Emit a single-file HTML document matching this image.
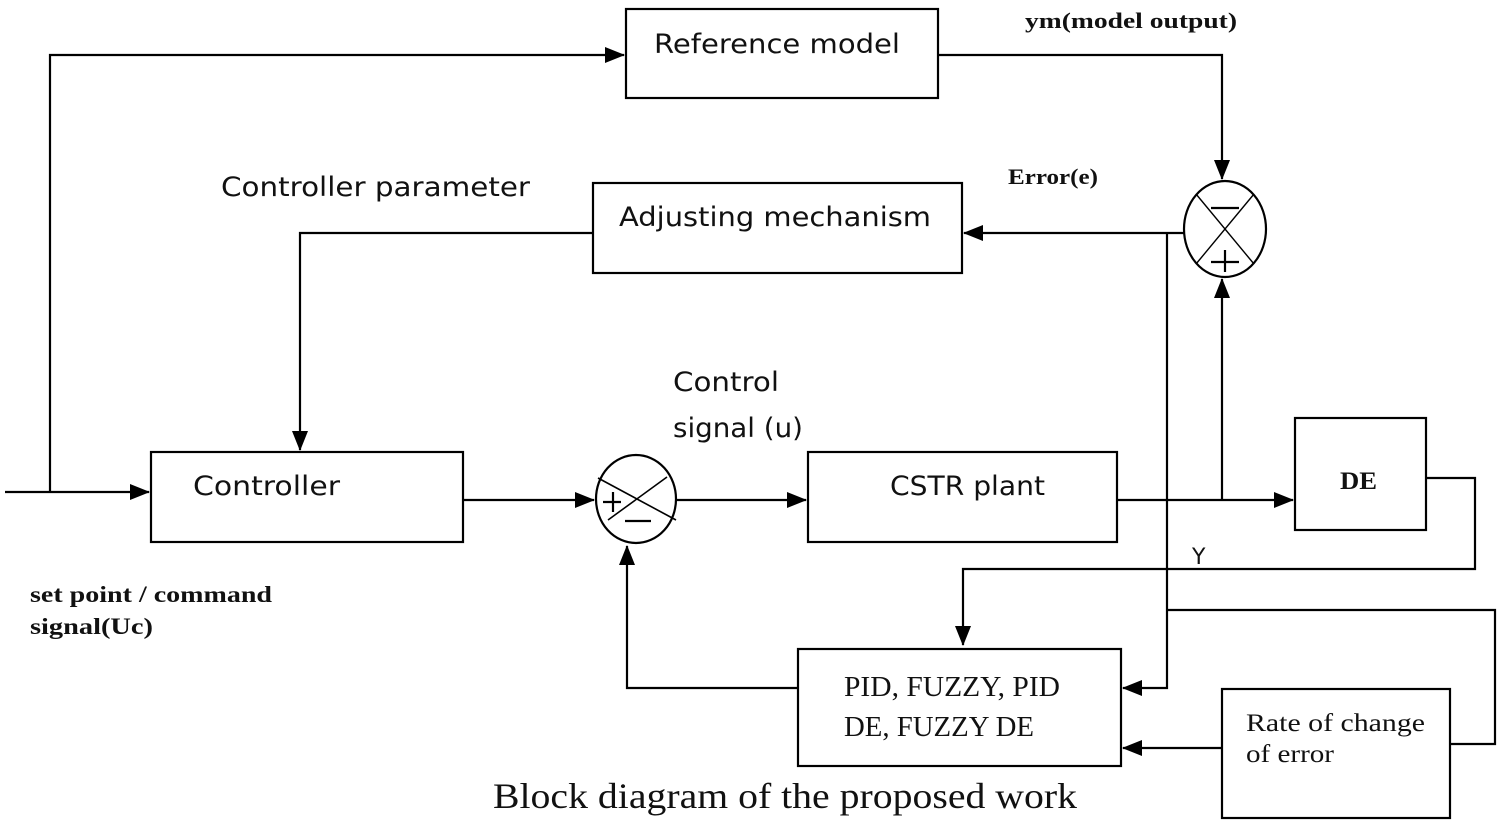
<!DOCTYPE html>
<html><head><meta charset="utf-8"><style>
html,body{margin:0;padding:0;background:#fff;}
svg{display:block}
.s{font-family:"DejaVu Sans","Liberation Sans",sans-serif;fill:#111}
.r{font-family:"Liberation Serif",serif;fill:#111}
</style></head><body>
<svg width="1504" height="827" viewBox="0 0 1504 827" xmlns="http://www.w3.org/2000/svg">
<defs>
<marker id="b" markerWidth="20" markerHeight="16" refX="19" refY="8" orient="auto" markerUnits="userSpaceOnUse"><path d="M0,0 L20,8 L0,16z" fill="#000"/></marker></defs>
<g fill="none" stroke="#000" stroke-width="2.2">
<rect x="626" y="9" width="312" height="89"/>
<rect x="593" y="183" width="369" height="90"/>
<rect x="151" y="452" width="312" height="90"/>
<rect x="808" y="452" width="309" height="90"/>
<rect x="1295" y="418" width="131" height="112"/>
<rect x="798" y="649" width="323" height="117"/>
<rect x="1222" y="689" width="228" height="129"/>
<ellipse cx="1225" cy="229" rx="41" ry="48"/>
<line x1="1196" y1="194" x2="1254" y2="264" stroke-width="1.4"/><line x1="1254" y1="194" x2="1196" y2="264" stroke-width="1.4"/>
<line x1="1211" y1="208" x2="1239" y2="208"/><line x1="1211" y1="262" x2="1239" y2="262"/><line x1="1225" y1="250" x2="1225" y2="272"/>
<ellipse cx="636" cy="499" rx="40" ry="44"/>
<line x1="598" y1="478" x2="676" y2="520" stroke-width="1.6"/><line x1="667" y1="477" x2="608" y2="520" stroke-width="1.6"/>
<line x1="603" y1="502" x2="621" y2="502"/><line x1="613" y1="492" x2="613" y2="512"/><line x1="625" y1="521" x2="651" y2="521"/>
<polyline points="5,492 149,492" marker-end="url(#b)"/>
<polyline points="50,492 50,55 624,55" marker-end="url(#b)"/>
<polyline points="938,55 1222,55 1222,179" marker-end="url(#b)"/>
<polyline points="1184,233 964,233" marker-end="url(#b)"/>
<polyline points="1167,233 1167,688 1123,688" marker-end="url(#b)"/>
<polyline points="593,233 300,233 300,450" marker-end="url(#b)"/>
<polyline points="463,500 594,500" marker-end="url(#b)"/>
<polyline points="677,500 806,500" marker-end="url(#b)"/>
<polyline points="1117,500 1293,500" marker-end="url(#b)"/>
<polyline points="1222,500 1222,279" marker-end="url(#b)"/>
<polyline points="1426,478 1475,478 1475,569 963,569 963,645" marker-end="url(#b)"/>
<polyline points="1167,610 1495,610 1495,744 1450,744"/>
<polyline points="1222,748 1123,748" marker-end="url(#b)"/>
<polyline points="798,688 627,688 627,546" marker-end="url(#b)"/>
</g>
<text class="s" x="654" y="53" font-size="27" textLength="246" lengthAdjust="spacingAndGlyphs">Reference model</text>
<text class="s" x="619" y="226" font-size="27" textLength="312" lengthAdjust="spacingAndGlyphs">Adjusting  mechanism</text>
<text class="s" x="193" y="495" font-size="27" textLength="147" lengthAdjust="spacingAndGlyphs">Controller</text>
<text class="s" x="890" y="495" font-size="27" textLength="155" lengthAdjust="spacingAndGlyphs">CSTR plant</text>
<text class="r" x="1340" y="489" font-size="25" font-weight="bold" textLength="37" lengthAdjust="spacingAndGlyphs">DE</text>
<text class="r" x="844" y="696" font-size="29" textLength="216" lengthAdjust="spacingAndGlyphs">PID, FUZZY, PID</text>
<text class="r" x="844" y="736" font-size="29" textLength="190" lengthAdjust="spacingAndGlyphs">DE, FUZZY DE</text>
<text class="r" x="1246" y="731" font-size="25" textLength="179" lengthAdjust="spacingAndGlyphs">Rate of change</text>
<text class="r" x="1246" y="762" font-size="25" textLength="88" lengthAdjust="spacingAndGlyphs">of error</text>
<text class="r" x="1025" y="28" font-size="22" font-weight="bold" textLength="212" lengthAdjust="spacingAndGlyphs">ym(model output)</text>
<text class="r" x="1008" y="184" font-size="22" font-weight="bold" textLength="90" lengthAdjust="spacingAndGlyphs">Error(e)</text>
<text class="s" x="221" y="196" font-size="27" textLength="309" lengthAdjust="spacingAndGlyphs">Controller parameter</text>
<text class="s" x="673" y="391" font-size="27" textLength="106" lengthAdjust="spacingAndGlyphs">Control</text>
<text class="s" x="673" y="437" font-size="27" textLength="130" lengthAdjust="spacingAndGlyphs">signal (u)</text>
<text class="s" x="1192" y="564" font-size="22">Y</text>
<text class="r" x="30" y="602" font-size="23" font-weight="bold" textLength="242" lengthAdjust="spacingAndGlyphs">set point / command</text>
<text class="r" x="30" y="634" font-size="23" font-weight="bold" textLength="123" lengthAdjust="spacingAndGlyphs">signal(Uc)</text>
<text class="r" x="493" y="808" font-size="36" textLength="584" lengthAdjust="spacingAndGlyphs">Block diagram of the proposed work</text>
</svg>
</body></html>
